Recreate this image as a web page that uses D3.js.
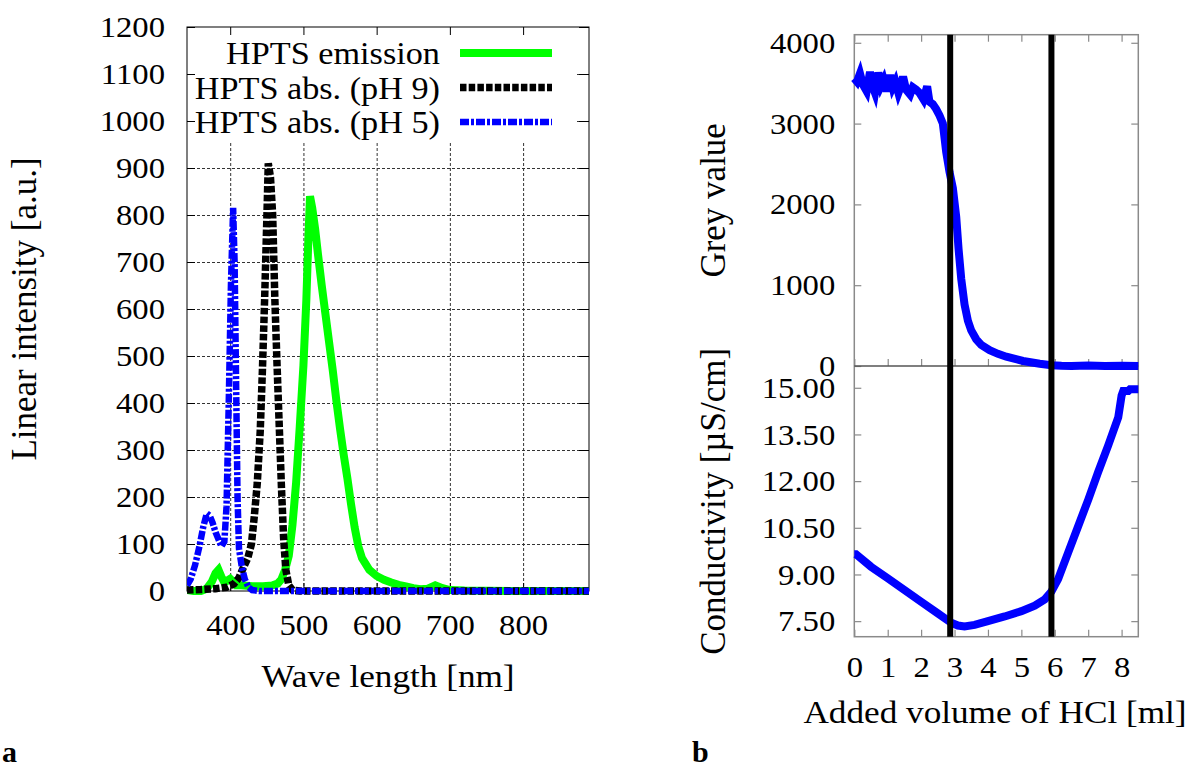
<!DOCTYPE html>
<html>
<head>
<meta charset="utf-8">
<script src="https://cdnjs.cloudflare.com/ajax/libs/d3/7.8.5/d3.min.js"></script>
<style>
  body { margin: 0; background: #fff; }
  svg text { font-family: "Liberation Serif", "Times New Roman", serif; fill: #000; }
</style>
</head>
<body>
<svg id="fig" width="1188" height="768"></svg>
<script>
// ---- panel a : HPTS spectra
const emissionNm  = [341, 350, 360, 368, 375, 380, 384, 388, 392, 396, 400, 404, 408, 415, 430, 445, 458, 465, 470, 475, 480, 485, 490, 495, 500, 504, 507, 509, 512, 516, 520, 525, 530, 535, 540, 545, 550, 555, 560, 565, 570, 575, 580, 590, 600, 610, 620, 630, 640, 650, 660, 670, 680, 690, 700, 720, 800, 890]
const emissionVal = [2, 0, 0, 5, 20, 38, 45, 30, 18, 22, 26, 20, 12, 12, 10, 10, 12, 16, 25, 45, 75, 140, 230, 350, 480, 620, 760, 840, 815, 770, 715, 650, 590, 530, 470, 405, 345, 290, 240, 185, 135, 95, 70, 45, 32, 24, 18, 13, 10, 6, 4, 5, 12, 6, 2, 1, 0, 0]

const ph9Nm  = [341, 360, 380, 395, 405, 412, 418, 424, 429, 433, 437, 441, 444, 447, 450, 452, 455, 458, 461, 464, 467, 470, 473, 476, 480, 485, 495, 890]
const ph9Val = [2, 3, 5, 8, 15, 28, 50, 70, 100, 160, 230, 340, 470, 620, 790, 910, 880, 800, 620, 480, 350, 220, 110, 45, 12, 2, 0, 0]

const ph5Nm  = [341, 346, 352, 358, 363, 368, 372, 376, 380, 384, 388, 392, 395, 398, 401, 404, 406, 408, 410, 412, 416, 420, 425, 430, 440, 890]
const ph5Val = [12, 25, 55, 95, 135, 165, 160, 145, 125, 110, 95, 105, 180, 400, 650, 815, 700, 450, 200, 90, 50, 25, 8, 2, 0, 0]

const legendNames = ['HPTS emission', 'HPTS abs. (pH 9)', 'HPTS abs. (pH 5)']
const waveTicks = [400, 500, 600, 700, 800]
const intensityTicks = d3.range(0, 1201, 100)

// ---- panel b : titration
const greyVol = [0, 0.08, 0.17, 0.26, 0.37, 0.47, 0.55, 0.62, 0.72, 0.8, 0.88, 0.97, 1.07, 1.15, 1.23, 1.32, 1.4, 1.46, 1.55, 1.67, 1.75, 1.85, 1.95, 2.07, 2.18, 2.25, 2.35, 2.45, 2.55, 2.65, 2.75, 2.85, 2.95, 3.05, 3.12, 3.2, 3.3, 3.4, 3.5, 3.65, 3.8, 4.05, 4.3, 4.55, 5.05, 5.55, 5.9, 6.2, 6.5, 7.0, 7.5, 8.0, 8.5]
const greyVal = [3560, 3520, 3620, 3480, 3400, 3640, 3460, 3380, 3630, 3470, 3540, 3400, 3600, 3450, 3520, 3380, 3470, 3580, 3420, 3360, 3450, 3420, 3380, 3300, 3460, 3270, 3240, 3180, 3100, 3000, 2650, 2400, 2200, 1850, 1450, 1080, 760, 560, 440, 330, 260, 195, 150, 115, 62, 28, 10, 3, 0, 5, 0, 3, 0]

const condVol = [0, 0.05, 0.5, 1.0, 1.5, 2.0, 2.5, 2.9, 3.1, 3.3, 3.6, 4.0, 4.5, 5.0, 5.4, 5.7, 5.9, 6.1, 6.4, 6.7, 7.0, 7.3, 7.6, 7.9, 8.0, 8.05, 8.2, 8.25, 8.5]
const condVal = [9.65, 9.65, 9.25, 8.88, 8.5, 8.12, 7.75, 7.45, 7.36, 7.33, 7.38, 7.5, 7.65, 7.82, 8.0, 8.2, 8.45, 8.85, 9.7, 10.55, 11.4, 12.3, 13.15, 14.05, 14.75, 14.9, 14.9, 14.95, 14.95]

const endPoints = [2.87, 5.9]
const volTicks = d3.range(0, 9, 1)
const greyTicks = [0, 1000, 2000, 3000, 4000]
const condTicks = [7.5, 9, 10.5, 12, 13.5, 15]

const FONT = '"Liberation Serif", "Times New Roman", serif'
let svg = d3.select('#fig')

function zip(xs, ys){ return xs.map((x, i) => [x, ys[i]]) }

// tick labels: serif, slightly wide like the picture
function styleTicks(sel, padX, padY, sx){
  sel.attr('font-family', FONT).attr('font-size', 30)
  sel.select('.domain').remove()
  sel.selectAll('.tick text').attr('x', 0).attr('y', 0)
    .style('font-family', FONT)
    .attr('transform', `translate(${padX},${padY}) scale(${sx},1)`)
}

// ================= panel a =================
let xA = d3.scaleLinear().domain([341, 890]).range([187, 589])
let yA = d3.scaleLinear().domain([0, 1200]).range([591, 27])
let gA = svg.append('g')

// grid
gA.append('g').attr('transform', `translate(187,0)`)
  .call(d3.axisLeft(yA).tickValues(intensityTicks.slice(1, -1)).tickSize(-(589 - 187)).tickFormat(''))
  .call(g => { g.select('.domain').remove(); g.selectAll('line').attr('stroke', '#333').attr('stroke-dasharray', '3,2') })
gA.append('g').attr('transform', `translate(0,591)`)
  .call(d3.axisBottom(xA).tickValues(waveTicks).tickSize(-(591 - 27)).tickFormat(''))
  .call(g => { g.select('.domain').remove(); g.selectAll('line').attr('stroke', '#333').attr('stroke-dasharray', '3,2') })

// legend background hides the grid
gA.append('rect').attr('x', 188).attr('y', 28).attr('width', 576 - 188).attr('height', 141 - 28).attr('fill', '#fff')

// ticks
let axLeftA = gA.append('g').attr('transform', 'translate(187,0)')
  .call(d3.axisLeft(yA).tickValues(intensityTicks).tickSizeInner(-8).tickSizeOuter(0).tickFormat(d3.format('d')))
styleTicks(axLeftA, -22, 0, 1.09)
gA.append('g').attr('transform', 'translate(589,0)')
  .call(d3.axisRight(yA).tickValues(intensityTicks).tickSizeInner(-10).tickSizeOuter(0).tickFormat(''))
  .call(g => g.select('.domain').remove())
let axBottomA = gA.append('g').attr('transform', 'translate(0,591)')
  .call(d3.axisBottom(xA).tickValues(waveTicks).tickSizeInner(-8).tickSizeOuter(0).tickFormat(d3.format('d')))
styleTicks(axBottomA, 0, 23, 1.09)
gA.append('g').attr('transform', 'translate(0,27)')
  .call(d3.axisTop(xA).tickValues(waveTicks).tickSizeInner(-8).tickSizeOuter(0).tickFormat(''))
  .call(g => g.select('.domain').remove())

gA.append('rect').attr('x', 187).attr('y', 27).attr('width', 589 - 187).attr('height', 591 - 27)
  .attr('fill', 'none').attr('stroke', '#000').attr('stroke-width', 1)

// curves
svg.append('clipPath').attr('id', 'clipA').append('rect')
  .attr('x', 187).attr('y', 27).attr('width', 589 - 187).attr('height', 591 - 27 + 6)
let lineA = d3.line().x(d => xA(d[0])).y(d => yA(d[1]))
let seriesA = [
  { data: zip(emissionNm, emissionVal), color: '#00ff00', width: 8, dash: null },
  { data: zip(ph9Nm, ph9Val), color: '#000000', width: 7.5, dash: '6.5,2.2' },
  { data: zip(ph5Nm, ph5Val), color: '#0000ff', width: 6.5, dash: '9,2,3,2' }
]
gA.append('g').attr('clip-path', 'url(#clipA)').selectAll('path').data(seriesA).enter().append('path')
  .attr('d', d => lineA(d.data))
  .attr('fill', 'none')
  .attr('stroke', d => d.color)
  .attr('stroke-width', d => d.width)
  .attr('stroke-dasharray', d => d.dash)
  .attr('stroke-linejoin', 'miter')

// legend
let leg = gA.append('g').selectAll('g').data(seriesA).enter().append('g')
  .attr('transform', (d, i) => `translate(0,${53 + i * 34.5})`)
leg.append('text').text((d, i) => legendNames[i])
  .attr('transform', 'translate(440,11) scale(1.07,1)')
  .attr('text-anchor', 'end').attr('font-size', 32)
leg.append('line').attr('x1', 460).attr('x2', 552).attr('y1', 0).attr('y2', 0)
  .attr('stroke', d => d.color).attr('stroke-width', d => d.width).attr('stroke-dasharray', d => d.dash)

// axis titles
gA.append('text').text('Linear intensity [a.u.]')
  .attr('transform', 'translate(36,309) rotate(-90)')
  .attr('text-anchor', 'middle').attr('font-size', 35)
gA.append('text').text('Wave length [nm]')
  .attr('transform', 'translate(388,687) scale(1.1,1)')
  .attr('text-anchor', 'middle').attr('font-size', 32)
svg.append('text').text('a').attr('x', 2).attr('y', 762).attr('font-size', 30).attr('font-weight', 'bold')

// ================= panel b =================
let xB = d3.scaleLinear().domain([0, 8.5]).range([854.3, 1138.3])
let yTop = d3.scaleLinear().domain([0, 4100]).range([366, 34.7])
let yBot = d3.scaleLinear().domain([7.0, 15.7]).range([636.7, 366])
let gB = svg.append('g')
const GREY = '#8a8a8a'

function greyAxis(g){ g.select('.domain').remove(); g.selectAll('line').attr('stroke', GREY).attr('stroke-width', 1.2) }

let axTopL = gB.append('g').attr('transform', 'translate(854.3,0)')
  .call(d3.axisLeft(yTop).tickValues(greyTicks).tickSizeInner(-7).tickSizeOuter(0).tickFormat(d3.format('d')))
styleTicks(axTopL, -19, 0, 1.09); greyAxis(axTopL)
gB.append('g').attr('transform', 'translate(1138.3,0)')
  .call(d3.axisRight(yTop).tickValues(greyTicks).tickSizeInner(-7).tickSizeOuter(0).tickFormat('')).call(greyAxis)
gB.append('g').attr('transform', 'translate(0,34.7)')
  .call(d3.axisTop(xB).tickValues(volTicks).tickSizeInner(-7).tickSizeOuter(0).tickFormat('')).call(greyAxis)
gB.append('g').attr('transform', 'translate(0,366)')
  .call(d3.axisBottom(xB).tickValues(volTicks).tickSizeInner(-7).tickSizeOuter(0).tickFormat('')).call(greyAxis)

let axBotL = gB.append('g').attr('transform', 'translate(854.3,0)')
  .call(d3.axisLeft(yBot).tickValues(condTicks).tickSizeInner(-7).tickSizeOuter(0).tickFormat(d3.format('.2f')))
styleTicks(axBotL, -19, 0, 1.09); greyAxis(axBotL)
gB.append('g').attr('transform', 'translate(1138.3,0)')
  .call(d3.axisRight(yBot).tickValues(condTicks).tickSizeInner(-7).tickSizeOuter(0).tickFormat('')).call(greyAxis)
let axBotB = gB.append('g').attr('transform', 'translate(0,636.7)')
  .call(d3.axisBottom(xB).tickValues(volTicks).tickSizeInner(-7).tickSizeOuter(0).tickFormat(d3.format('d')))
styleTicks(axBotB, 0, 19, 1.09); greyAxis(axBotB)

gB.append('rect').attr('x', 854.3).attr('y', 34.7).attr('width', 1138.3 - 854.3).attr('height', 636.7 - 34.7)
  .attr('fill', 'none').attr('stroke', GREY).attr('stroke-width', 1.5)
gB.append('line').attr('x1', 854.3).attr('x2', 1138.3).attr('y1', 366).attr('y2', 366)
  .attr('stroke', '#555').attr('stroke-width', 1.5)

gB.append('path').datum(zip(greyVol, greyVal))
  .attr('d', d3.line().x(d => xB(d[0])).y(d => yTop(d[1])))
  .attr('fill', 'none').attr('stroke', '#0000ff').attr('stroke-width', 8)
gB.append('path').datum(zip(condVol, condVal))
  .attr('d', d3.line().x(d => xB(d[0])).y(d => yBot(d[1])))
  .attr('fill', 'none').attr('stroke', '#0000ff').attr('stroke-width', 8)

gB.selectAll('.endpoint').data(endPoints).enter().append('line').attr('class', 'endpoint')
  .attr('x1', d => xB(d)).attr('x2', d => xB(d)).attr('y1', 34.7).attr('y2', 636.7)
  .attr('stroke', '#000').attr('stroke-width', 6)

gB.append('text').text('Grey value')
  .attr('transform', `translate(725,${(34.7 + 366) / 2}) rotate(-90)`)
  .attr('text-anchor', 'middle').attr('font-size', 35)
gB.append('text').text('Conductivity [µS/cm]')
  .attr('transform', `translate(725,${(366 + 636.7) / 2}) rotate(-90)`)
  .attr('text-anchor', 'middle').attr('font-size', 35)
gB.append('text').text('Added volume of HCl [ml]')
  .attr('transform', 'translate(995,723) scale(1.1,1)')
  .attr('text-anchor', 'middle').attr('font-size', 32)
svg.append('text').text('b').attr('x', 692).attr('y', 762).attr('font-size', 30).attr('font-weight', 'bold')
</script>
</body>
</html>
